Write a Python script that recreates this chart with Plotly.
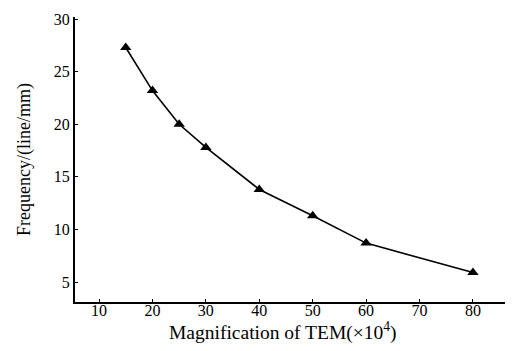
import plotly.graph_objects as go

magnification = [15, 20, 25, 30, 40, 50, 60, 80]
frequency = [27.3, 23.2, 20.0, 17.8, 13.8, 11.3, 8.7, 5.9]
x_ticks = [10, 20, 30, 40, 50, 60, 70, 80]
y_ticks = [5, 10, 15, 20, 25, 30]

font = "Liberation Serif"

fig = go.Figure()
fig.add_trace(go.Scatter(
    x=magnification, y=frequency, mode="lines+markers",
    line=dict(color="black", width=1.6),
    marker=dict(symbol="triangle-up", size=10, color="black"),
    showlegend=False,
))

# page body has an 8px margin, so the figure is sized/offset to compensate
fig.update_layout(
    width=505, height=343,
    margin=dict(l=67, r=0, t=9, b=49),
    plot_bgcolor="white", paper_bgcolor="white",
    font=dict(family=font, color="black", size=16),
    annotations=[dict(
        text="Magnification of TEM(×10<sup>4</sup>)",
        xref="paper", yref="paper", x=0.475, y=0,
        xanchor="center", yanchor="middle", yshift=-29,
        showarrow=False, font=dict(size=19.5),
    )],
)
fig.update_xaxes(
    range=[5.5, 87.5], tickvals=x_ticks, ticks="inside", ticklen=3,
    tickcolor="black", showline=True, linecolor="black", linewidth=2,
    showgrid=False, zeroline=False, tickfont=dict(size=16),
    ticklabelstandoff=-7,
)
fig.update_yaxes(
    range=[3.1, 30.2], tickvals=y_ticks, ticks="inside", ticklen=3,
    tickcolor="black", showline=True, linecolor="black", linewidth=2,
    showgrid=False, zeroline=False, tickfont=dict(size=16),
    title=dict(text="Frequency/(line/mm)", font=dict(size=18), standoff=18),
)

fig.write_html("out.html")
